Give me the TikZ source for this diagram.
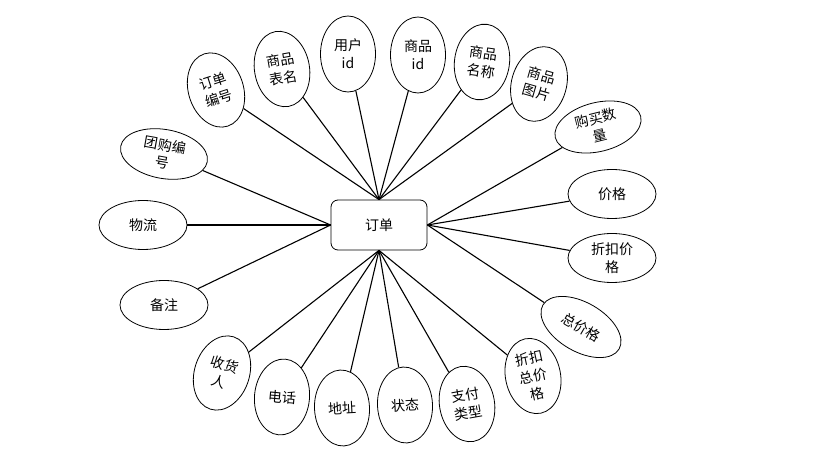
\documentclass[tikz,border=0pt]{standalone}
\usepackage{fontspec}
\setmainfont{Noto Sans CJK SC}
\usetikzlibrary{shapes.geometric, positioning}
\newcommand{\cnfont}{\fontsize{14}{18}\selectfont}
\tikzset{
  entity/.style={draw, line width=0.8pt, rounded corners=7pt, minimum width=96pt, minimum height=50pt, inner sep=0pt, font=\cnfont},
  attrv/.style={draw, ellipse, line width=0.8pt, minimum width=55pt, minimum height=76pt, inner sep=0pt, align=center, font=\cnfont},
  attrh/.style={draw, ellipse, line width=0.8pt, minimum width=88pt, minimum height=49pt, inner sep=0pt, align=center, font=\cnfont},
  link/.style={line width=1.1pt}
}

\begin{document}
\begin{tikzpicture}[x=1pt, y=-1pt]
        \useasboundingbox (0,0) rectangle (831,470);
        % Entity
        \node[entity] (order) at (379,225) {订单};
        % Upright attributes
        \foreach \n/\x/\y/\r/\t in {ddbh/216/90/18/{订单\\编号}, spbm/282/69/10/{商品\\表名},
            yhid/348/54/0/{用户\\id}, spid/418/55/0/{商品\\id}, spmc/482/62/-8/{商品\\名称},
            sptp/539/84/-16/{商品\\图片}, shr/222/373/-18/{收货\\人}, dh/282/397/-5/{电话},
            dz/342/408/3/{地址}, zt/405/405/3/{状态}, zflx/467/404/10/{支付\\类型},
            zkzjg/533/376/12/{折扣\\总价\\格}}
          \node[attrv, rotate=\r] (\n) at (\x,\y) {\t};
        % Lying attributes
        \foreach \n/\x/\y/\r/\t in {tgbh/164/154/-10/{团购编\\号}, wl/143/225/0/{物流},
            bz/164/305/0/{备注}, gmsl/598/127/14/{购买数\\量}, jg/612/194/0/{价格},
            zkjg/612/258/0/{折扣价\\格}, zjg/581/327/-30/{总价格}}
          \node[attrh, rotate=\r] (\n) at (\x,\y) {\t};
        % Connectors
        \foreach \n in {ddbh,spbm,yhid,spid,spmc,sptp}
          \draw[link] (order.north) -- (\n);
        \foreach \n in {tgbh,wl,bz}
          \draw[link] (order.west) -- (\n);
        \foreach \n in {gmsl,jg,zkjg,zjg}
          \draw[link] (order.east) -- (\n);
        \foreach \n in {shr,dh,dz,zt,zflx,zkzjg}
          \draw[link] (order.south) -- (\n);
\end{tikzpicture}
\end{document}
